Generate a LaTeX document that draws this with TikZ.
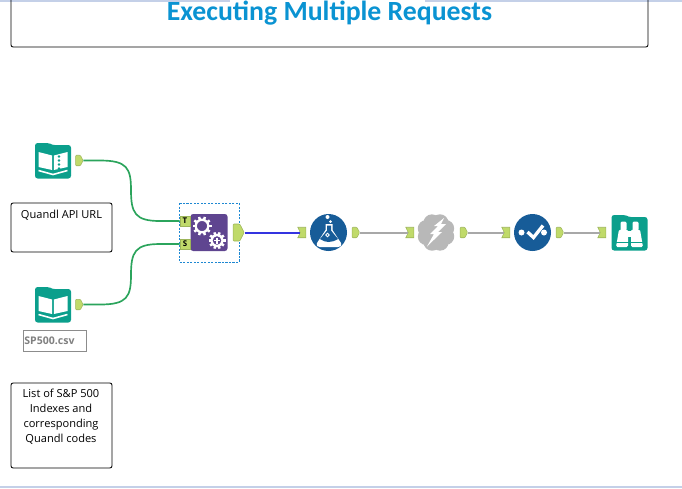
\documentclass[tikz,border=0pt]{standalone}
\usepackage{fontspec}
\setmainfont{Open Sans}
\newfontfamily\titlefont{Carlito}
\usetikzlibrary{shapes.symbols}
\definecolor{toolteal}{HTML}{0B9F8C}
\definecolor{toolblue}{HTML}{175C98}
\definecolor{toolpurple}{HTML}{5F4590}
\definecolor{portgreen}{HTML}{C0DA6A}
\definecolor{portedge}{HTML}{9DB55A}
\definecolor{wiregreen}{HTML}{2BA45C}
\definecolor{wireblue}{HTML}{3434E0}
\definecolor{wiregray}{HTML}{A8A8A8}
\definecolor{cloudgray}{HTML}{B8B8B8}
\definecolor{framebar}{HTML}{C4D0E8}
\definecolor{titleblue}{HTML}{0A93D2}
\definecolor{framedash}{HTML}{1E88D2}
\tikzset{
  commentbox/.style={draw,rounded corners=1.2pt,line width=.5pt},
  commenttext/.style={font=\fontsize{6.3}{8.5}\selectfont,align=center,anchor=north},
  outport/.style={signal,signal to=east,signal from=nowhere,signal pointer angle=125,rounded corners=.5pt,
    draw=portedge,fill=portgreen,line width=.3pt,inner sep=0pt,minimum width=.15cm,minimum height=.21cm},
  inport/.style={signal,signal from=west,signal to=nowhere,signal pointer angle=130,draw=portedge,fill=portgreen,
    line width=.3pt,inner sep=0pt,minimum width=.16cm,minimum height=.21cm},
  letterport/.style={draw=portedge,fill=portgreen,line width=.3pt,inner sep=0pt,
    minimum width=.2cm,minimum height=.2cm,font=\fontsize{4.5}{5}\selectfont\bfseries},
  wire/.style={line width=.95pt},
  folder/.style={fill=toolteal,rounded corners=1.5pt},
}
% teal tool body with its folder tab, #1 is the centre
\newcommand{\foldericon}[1]{
  \fill[folder,shift={#1}] (-18,18) -- (-18,-17.5) -- (-4,-17.5) -- (-1,-15.5) -- (18,-15.5) -- (18,18) -- cycle;
}
% book pages drawn on the folder body
\newcommand{\bookpages}[1]{
  \begin{scope}[shift={#1}]
    \fill[white] (-14.5,-8.5) -- (-.8,-5) -- (-.8,9.5) -- (-14.5,6.5) -- cycle;
    \fill[white] (14.5,-8.5) -- (.8,-5) -- (.8,9.5) -- (14.5,6.5) -- cycle;
    \draw[white,line width=.9pt] (-14.5,10) -- (0,14) -- (14.5,10);
  \end{scope}
}
% #1 centre, #2 outer radius, #3 teeth
\newcommand{\gearicon}[3]{
  \begin{scope}[shift={#1}]
    \fill[toolpurple] (0,0) circle (#2+1);
    \foreach \a in {1,...,#3}
      \draw[white,line width=1.4pt] (\a*360/#3:#2*.6) -- (\a*360/#3:#2);
    \fill[toolpurple] (0,0) circle (#2*.56);
    \draw[white,line width=1.3pt] (0,0) circle (#2*.66);
  \end{scope}
}
\begin{document}
\begin{tikzpicture}[x=.02cm,y=-.02cm]
  \useasboundingbox (0,0) rectangle (682,488);
  \fill[framebar] (0,0) rectangle (230,1.5);
  \fill[framebar] (425,0) rectangle (682,1.5);
  \fill[framebar] (0,486) rectangle (682,488);

  % comment boxes
  \draw[commentbox] (11,0) -- (11,47) -- (648,47) -- (648,0);
  \node[font=\titlefont\fontsize{15.8}{17}\selectfont\bfseries,text=titleblue,anchor=base] (title) at (329.5,20) {Executing Multiple Requests};
  \draw[commentbox] (11,203) rectangle (112,252);
  \node[commenttext] (urltext) at (61.5,204) {Quandl API URL};
  \draw[commentbox] (11,383) rectangle (112,468);
  \node[commenttext] (listtext) at (61,383) {List of S\&P 500\\Indexes and\\corresponding\\Quandl codes};
  \node[draw=black!45,line width=.5pt,minimum width=1.26cm,minimum height=.42cm,inner sep=0pt,
    font=\fontsize{6}{8}\selectfont\bfseries,text=black!50] (csvlabel) at (54.5,340.5) {\hspace{-.2cm}SP500.csv};

  % input tools
  \foldericon{(53,160.5)}
  \bookpages{(53,160.5)}
  \foreach \y in {-4,0,4,8}
    \fill[toolteal] (59,160.5+\y) circle (1.4);
  \foldericon{(53,304.5)}
  \bookpages{(53,304.5)}

  % selection frame and formula tool
  \draw[dash pattern=on 1.2pt off .8pt,draw=framedash,line width=.5pt] (179,203) rectangle (239,262);
  \node[fill=toolpurple,rounded corners=1.5pt,minimum size=.74cm,inner sep=0pt] (batch) at (209,232.5) {};
  \gearicon{(202,226)}{9.5}{10}
  \gearicon{(217,240.5)}{8.5}{10}
  \draw[white,line width=.8pt] (214,240.5) -- (220,240.5) (217,237.5) -- (217,243.5);

  % flask tool
  \node[circle,fill=toolblue,minimum size=.74cm,inner sep=0pt] (flask) at (328.5,232.5) {};
  \fill[white] (325.5,224) -- (332.5,224) -- (332.5,230) -- (341,243) .. controls (342,246) and (340,247) .. (338,247)
    -- (320,247) .. controls (318,247) and (316,246) .. (317,243) -- (325.5,230) -- cycle;
  \fill[toolblue] (327,225.5) -- (331,225.5) -- (331,230.5) -- (338,239) .. controls (331,243) and (326,243) .. (320,239) -- (327,230.5) -- cycle;
  \draw[white,line width=.5pt] (327.5,235) circle (1.8);
  \fill[white] (330.5,221.5) circle (1.5) (327.5,217) circle (2);

  % cloud tool
  \node[circle,fill=cloudgray,minimum size=.62cm,inner sep=0pt] (cloudtool) at (436,232.5) {};
  \foreach \a in {0,45,...,315}
    \fill[cloudgray] (436,232.5) ++(\a+22:10.5) circle (8.5);
  \fill[white] (444,218) -- (434,226) -- (438,226) -- (430,234) -- (434,234) -- (427,246.5) -- (442,232) -- (438,232) -- (446,224) -- (441,224) -- cycle;

  % check tool
  \node[circle,fill=toolblue,minimum size=.74cm,inner sep=0pt] (check) at (532.5,232.5) {};
  \fill[white] (521.5,232.5) circle (3) (544,232.5) circle (3);
  \draw[white,line width=1.9pt] (527.5,232) -- (533.5,237.5) -- (543,225.5);

  % browse tool
  \foldericon{(629.5,232.5)}
  \begin{scope}[shift={(629.5,232.5)}]
    \fill[white,rounded corners=.8pt] (-9,-11) rectangle (-3,-2) (3,-11) rectangle (9,-2);
    \fill[white,rounded corners=.8pt] (-10.5,-3) -- (-1.5,-3) -- (-1.5,14.5) -- (-13.5,14.5) -- cycle;
    \fill[white,rounded corners=.8pt] (10.5,-3) -- (1.5,-3) -- (1.5,14.5) -- (13.5,14.5) -- cycle;
    \fill[white] (-2,-2) rectangle (2,4);
    \draw[toolteal,line width=.5pt] (-13.5,10) -- (-1,10) (1,10) -- (13.5,10);
  \end{scope}

  % connection anchors
  \node[outport] (bookAout) at (78,160.5) {};
  \node[outport] (bookBout) at (78,304.5) {};
  \node[letterport] (batchT) at (185,221) {T};
  \node[letterport] (batchS) at (185,244) {S};
  \node[outport,minimum width=.22cm,minimum height=.34cm] (batchout) at (236.5,232.5) {};
  \node[inport] (flaskin) at (303,232.5) {};
  \node[outport] (flaskout) at (354.5,232.5) {};
  \node[inport] (cloudin) at (411,232.5) {};
  \node[outport] (cloudout) at (462.5,232.5) {};
  \node[inport] (checkin) at (507,232.5) {};
  \node[outport] (checkout) at (558.5,232.5) {};
  \node[inport] (browsein) at (603,232.5) {};

  % connectors
  \draw[wire,wiregreen] (bookAout.east) -- (100,160.5) .. controls (127,160.5) and (131,168) .. (131,190)
    .. controls (131,213) and (135,221) .. (160,221) -- (batchT.west);
  \draw[wire,wiregreen] (bookBout.east) -- (100,304.5) .. controls (127,304.5) and (131,297) .. (131,275)
    .. controls (131,252) and (135,244) .. (160,244) -- (batchS.west);
  \draw[line width=1.15pt,wireblue] (batchout.east) -- (flaskin.west);
  \draw[line width=1.15pt,wiregray] (flaskout.east) -- (cloudin.west);
  \draw[line width=1.15pt,wiregray] (cloudout.east) -- (checkin.west);
  \draw[line width=1.15pt,wiregray] (checkout.east) -- (browsein.west);
\end{tikzpicture}
\end{document}
